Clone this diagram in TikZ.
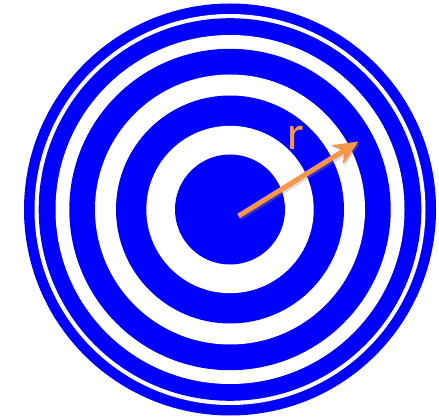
\documentclass[tikz,border=0pt]{standalone}
\usepackage{fontspec}
\setmainfont{Carlito}
\usetikzlibrary{arrows.meta}
\definecolor{ringblue}{HTML}{0000FF}
\definecolor{arroworange}{HTML}{F79646}
\tikzset{
  bluedisc/.style={fill=ringblue, draw=none},
  whitedisc/.style={fill=white, draw=none},
  radiusarrow/.style={draw=arroworange, line width=5pt, -{Stealth[length=25pt,width=22pt,inset=8pt]}},
  radiuslabel/.style={text=arroworange, font=\fontsize{48}{52}\selectfont, inner sep=0pt}
}
\begin{document}
\begin{tikzpicture}[x=1pt,y=-1pt]
\useasboundingbox (0,0) rectangle (439,419);
\coordinate (c) at (230,209.5);
\fill[bluedisc]  (c) circle (206);
\fill[whitedisc] (c) circle (195.5);
\fill[bluedisc]  (c) circle (191.3);
\fill[whitedisc] (c) circle (174.5);
\fill[bluedisc]  (c) circle (160.7);
\fill[whitedisc] (c) circle (135);
\fill[bluedisc]  (c) circle (114);
\fill[whitedisc] (c) circle (83.7);
\fill[bluedisc]  (c) circle (55);
\coordinate (start) at (238.5,216);
\coordinate (tip) at (358.5,141.5);
\draw[draw=black!45, opacity=0.35, line width=5pt, -{Stealth[length=25pt,width=22pt,inset=8pt]}] ([shift={(1.5,2)}]start) -- ([shift={(1.5,2)}]tip);
\draw[radiusarrow] (start) -- (tip);
\node[radiuslabel, anchor=base] (r) at (296,150) {r};
\end{tikzpicture}
\end{document}
